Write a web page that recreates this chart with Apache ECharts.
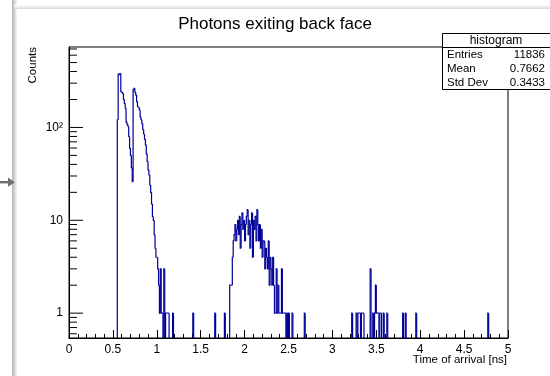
<!DOCTYPE html>
<html>
<head>
<meta charset="utf-8">
<script src="https://cdn.jsdelivr.net/npm/echarts@6/dist/echarts.min.js"></script>
<style>
  html, body { margin: 0; padding: 0; background: #fff; }
  #chart { width: 550px; height: 376px; }
</style>
</head>
<body>
<div id="chart"></div>
<script>
// Arrival-time histogram: 500 bins of 0.01 ns between 0 and 5 ns.
const binWidth = 0.01;
const xRange = [0, 5];
const counts = [
  0,0,0,0,0,0,0,0,0,0,            // 0.0
  0,0,0,0,0,0,0,0,0,0,            // 0.1
  0,0,0,0,0,0,0,0,0,0,            // 0.2
  0,0,0,0,0,0,0,0,0,0,            // 0.3
  0,0,0,0,0,0,0,0,0,0,            // 0.4
  0,0,0,0,0,121,376,370,380,243,  // 0.5
  240,232,200,182,161,115,108,103,80,60, // 0.6
  50,37,26,255,264,240,224,190,168,165,  // 0.7
  155,130,121,110,95,85,75,65,52,43,     // 0.8
  35,31,24,20,15,11,10,7,5,4,     // 0.9
  4,3,2,1,3,1,1,0,3,0,            // 1.0
  1,1,1,1,0,0,0,0,1,0,            // 1.1
  0,0,0,0,0,0,0,0,0,0,            // 1.2
  0,0,0,0,0,0,0,0,0,0,            // 1.3
  0,1,0,0,0,0,0,0,0,0,            // 1.4
  0,0,0,0,0,0,0,0,0,0,            // 1.5
  0,0,0,0,0,0,1,0,0,0,            // 1.6
  0,0,0,0,0,0,0,1,0,0,            // 1.7
  0,0,0,2,2,2,4,6,7,9,            // 1.8
  6,8,10,7,11,5,9,12,8,10,        // 1.9
  6,9,11,13,7,10,5,9,12,4,        // 2.0
  10,8,11,6,13,9,6,9,5,8,         // 2.1
  4,6,6,3,5,4,3,6,2,4,            // 2.2
  3,2,4,2,1,1,3,1,2,1,            // 2.3
  1,1,3,1,1,1,1,0,1,0,            // 2.4
  1,0,0,0,1,0,0,0,0,0,            // 2.5
  0,0,0,0,0,0,0,0,1,0,            // 2.6
  0,0,0,0,0,0,0,0,0,0,            // 2.7
  0,0,0,0,0,0,0,0,0,0,            // 2.8
  0,0,0,0,0,0,0,0,0,0,            // 2.9
  0,0,0,0,0,0,0,0,0,0,            // 3.0
  0,0,0,0,0,0,0,0,0,0,            // 3.1
  0,0,1,0,0,0,0,1,0,1,            // 3.2
  1,1,0,1,1,1,0,0,0,0,            // 3.3
  0,0,0,3,0,0,1,0,1,2,            // 3.4
  1,1,1,0,1,1,0,0,1,0,            // 3.5
  0,0,1,0,0,0,0,0,0,0,            // 3.6
  0,0,0,0,0,0,0,0,0,0,            // 3.7
  1,0,0,1,0,0,0,0,0,0,            // 3.8
  0,0,0,0,0,1,0,0,0,0,            // 3.9
  0,0,0,0,0,0,0,0,0,0,            // 4.0
  0,0,0,0,0,0,0,0,0,0,            // 4.1
  0,0,0,0,0,0,0,0,0,0,            // 4.2
  0,0,0,0,0,0,0,0,0,0,            // 4.3
  0,0,0,0,0,0,0,0,0,0,            // 4.4
  0,0,0,0,0,0,0,0,0,0,            // 4.5
  0,0,0,0,0,0,0,0,0,0,            // 4.6
  0,0,0,0,0,0,0,1,0,0,            // 4.7
  0,0,0,0,0,0,0,0,0,0,            // 4.8
  0,0,0,0,0,0,0,0,0,0             // 4.9
];

// Logarithmic count axis
const yRange = [0.54, 735];
const yMajorTicks = [1, 10, 100];
const yMinorTicks = [0.6, 0.7, 0.8, 0.9,
  2, 3, 4, 5, 6, 7, 8, 9,
  20, 30, 40, 50, 60, 70, 80, 90,
  200, 300, 400, 500, 600, 700];
const yTickLabels = { 1: '1', 10: '10', 100: '10\u00B2' };

// Statistics box
const statsTitle = 'histogram';
const statsNames = ['Entries', 'Mean', 'Std Dev'];
const statsValues = ['11836', '0.7662', '0.3433'];

const chartTitle = 'Photons exiting back face';
const xTitle = 'Time of arrival [ns]';
const yTitle = 'Counts';

const FONT = '"Liberation Sans", Arial, Helvetica, sans-serif';
const LINE_BLUE = '#000099';

// Each bin carries its edges, its content and the previous bin's content,
// so the step outline can be drawn bin by bin.
const binData = counts.map((c, i) => [
  i * binWidth, (i + 1) * binWidth, c, i > 0 ? counts[i - 1] : 0
]);

function renderBin(params, api) {
  const cs = params.coordSys;
  const bottom = cs.y + cs.height;
  const c = api.value(2), prev = api.value(3);
  if (c === 0 && prev === 0) return null;
  const yOf = v => (v > 0 ? api.coord([0, v])[1] : bottom);
  const x0 = api.coord([api.value(0), 1])[0];
  const x1 = api.coord([api.value(1), 1])[0];
  const y0 = yOf(prev), y1 = yOf(c);
  return {
    type: 'polyline',
    shape: { points: [[x0, y0], [x0, y1], [x1, y1]] },
    style: { stroke: LINE_BLUE, lineWidth: 1.2, fill: null }
  };
}

function tickRenderer(len) {
  return function (params, api) {
    const cs = params.coordSys;
    const y = api.coord([0, api.value(1)])[1];
    return {
      type: 'line',
      shape: { x1: cs.x, y1: y, x2: cs.x + len, y2: y },
      style: { stroke: '#000', lineWidth: 1 }
    };
  };
}

const statsRowY = [55, 68.5, 82.5];
const graphics = [
  // window edge shading
  { type: 'rect', z: -10, silent: true, shape: { x: 12, y: 0, width: 5, height: 376 },
    style: { fill: new echarts.graphic.LinearGradient(0, 0, 1, 0, [
      { offset: 0, color: '#b5b5b5' }, { offset: 1, color: '#f6f6f6' }]) } },
  { type: 'rect', z: -10, silent: true, shape: { x: 14, y: 5, width: 536, height: 4 },
    style: { fill: new echarts.graphic.LinearGradient(0, 0, 0, 1, [
      { offset: 0, color: '#ffffff' }, { offset: 1, color: '#d8d8d8' }]) } },
  // pointer arrow at the left border
  { type: 'rect', silent: true, shape: { x: 0, y: 181, width: 9, height: 2.4 },
    style: { fill: '#707070' } },
  { type: 'polygon', silent: true, shape: { points: [[8, 177.5], [15, 182.2], [8, 186.8]] },
    style: { fill: '#707070' } },
  // axis titles
  { type: 'text', x: 32.5, y: 47, rotation: Math.PI / 2, silent: true,
    style: { text: yTitle, font: '11.5px ' + FONT, fill: '#000', align: 'right', verticalAlign: 'middle' } },
  { type: 'text', x: 507, y: 360, silent: true,
    style: { text: xTitle, font: '11.5px ' + FONT, fill: '#000', align: 'right', verticalAlign: 'middle' } },
  // statistics box
  { type: 'rect', z: 100, silent: true, shape: { x: 442.5, y: 33.5, width: 112, height: 56 },
    style: { fill: '#fff', stroke: '#000', lineWidth: 1 } },
  { type: 'line', z: 101, silent: true, shape: { x1: 442.5, y1: 47.5, x2: 550, y2: 47.5 },
    style: { stroke: '#000', lineWidth: 1 } },
  { type: 'text', z: 101, x: 496, y: 40.5, silent: true,
    style: { text: statsTitle, font: '12px ' + FONT, fill: '#000', align: 'center', verticalAlign: 'middle' } }
];
statsNames.forEach((name, i) => {
  graphics.push({ type: 'text', z: 101, x: 447, y: statsRowY[i], silent: true,
    style: { text: name, font: '11.5px ' + FONT, fill: '#000', align: 'left', verticalAlign: 'middle' } });
  graphics.push({ type: 'text', z: 101, x: 545, y: statsRowY[i], silent: true,
    style: { text: statsValues[i], font: '11.5px ' + FONT, fill: '#000', align: 'right', verticalAlign: 'middle' } });
});

const chart = echarts.init(document.getElementById('chart'), null, { renderer: 'canvas' });
chart.setOption({
  animation: false,
  backgroundColor: '#fff',
  title: {
    text: chartTitle, left: 'center', top: 11,
    textStyle: { fontFamily: FONT, fontSize: 17, fontWeight: 'normal', color: '#000' }
  },
  grid: {
    left: 69, right: 42, top: 47, bottom: 38,
    show: true, borderColor: '#000', borderWidth: 1, backgroundColor: 'transparent'
  },
  xAxis: {
    type: 'value', min: xRange[0], max: xRange[1], interval: 0.5,
    axisLine: { show: true, lineStyle: { color: '#000', width: 1 } },
    axisTick: { show: true, inside: true, length: 8, lineStyle: { color: '#000' } },
    minorTick: { show: true, splitNumber: 5, length: 4, lineStyle: { color: '#000' } },
    splitLine: { show: false },
    minorSplitLine: { show: false },
    axisLabel: { margin: 6, fontFamily: FONT, fontSize: 12, color: '#000' }
  },
  yAxis: {
    type: 'log', logBase: 10, min: yRange[0], max: yRange[1],
    axisLine: { show: true, lineStyle: { color: '#000', width: 1 } },
    axisTick: { show: false },
    splitLine: { show: false },
    axisLabel: {
      margin: 6, fontFamily: FONT, fontSize: 12, color: '#000',
      showMinLabel: false, showMaxLabel: false,
      formatter: v => yTickLabels[Math.round(v * 1000) / 1000] || ''
    }
  },
  series: [
    {
      type: 'custom', name: 'histogram', clip: true,
      renderItem: renderBin,
      encode: { x: [0, 1], y: 2 },
      data: binData
    },
    {
      type: 'custom', silent: true,
      renderItem: tickRenderer(14),
      encode: { x: 0, y: 1 },
      data: yMajorTicks.map(v => [0, v])
    },
    {
      type: 'custom', silent: true,
      renderItem: tickRenderer(8),
      encode: { x: 0, y: 1 },
      data: yMinorTicks.map(v => [0, v])
    }
  ],
  graphic: graphics
});
</script>
</body>
</html>
